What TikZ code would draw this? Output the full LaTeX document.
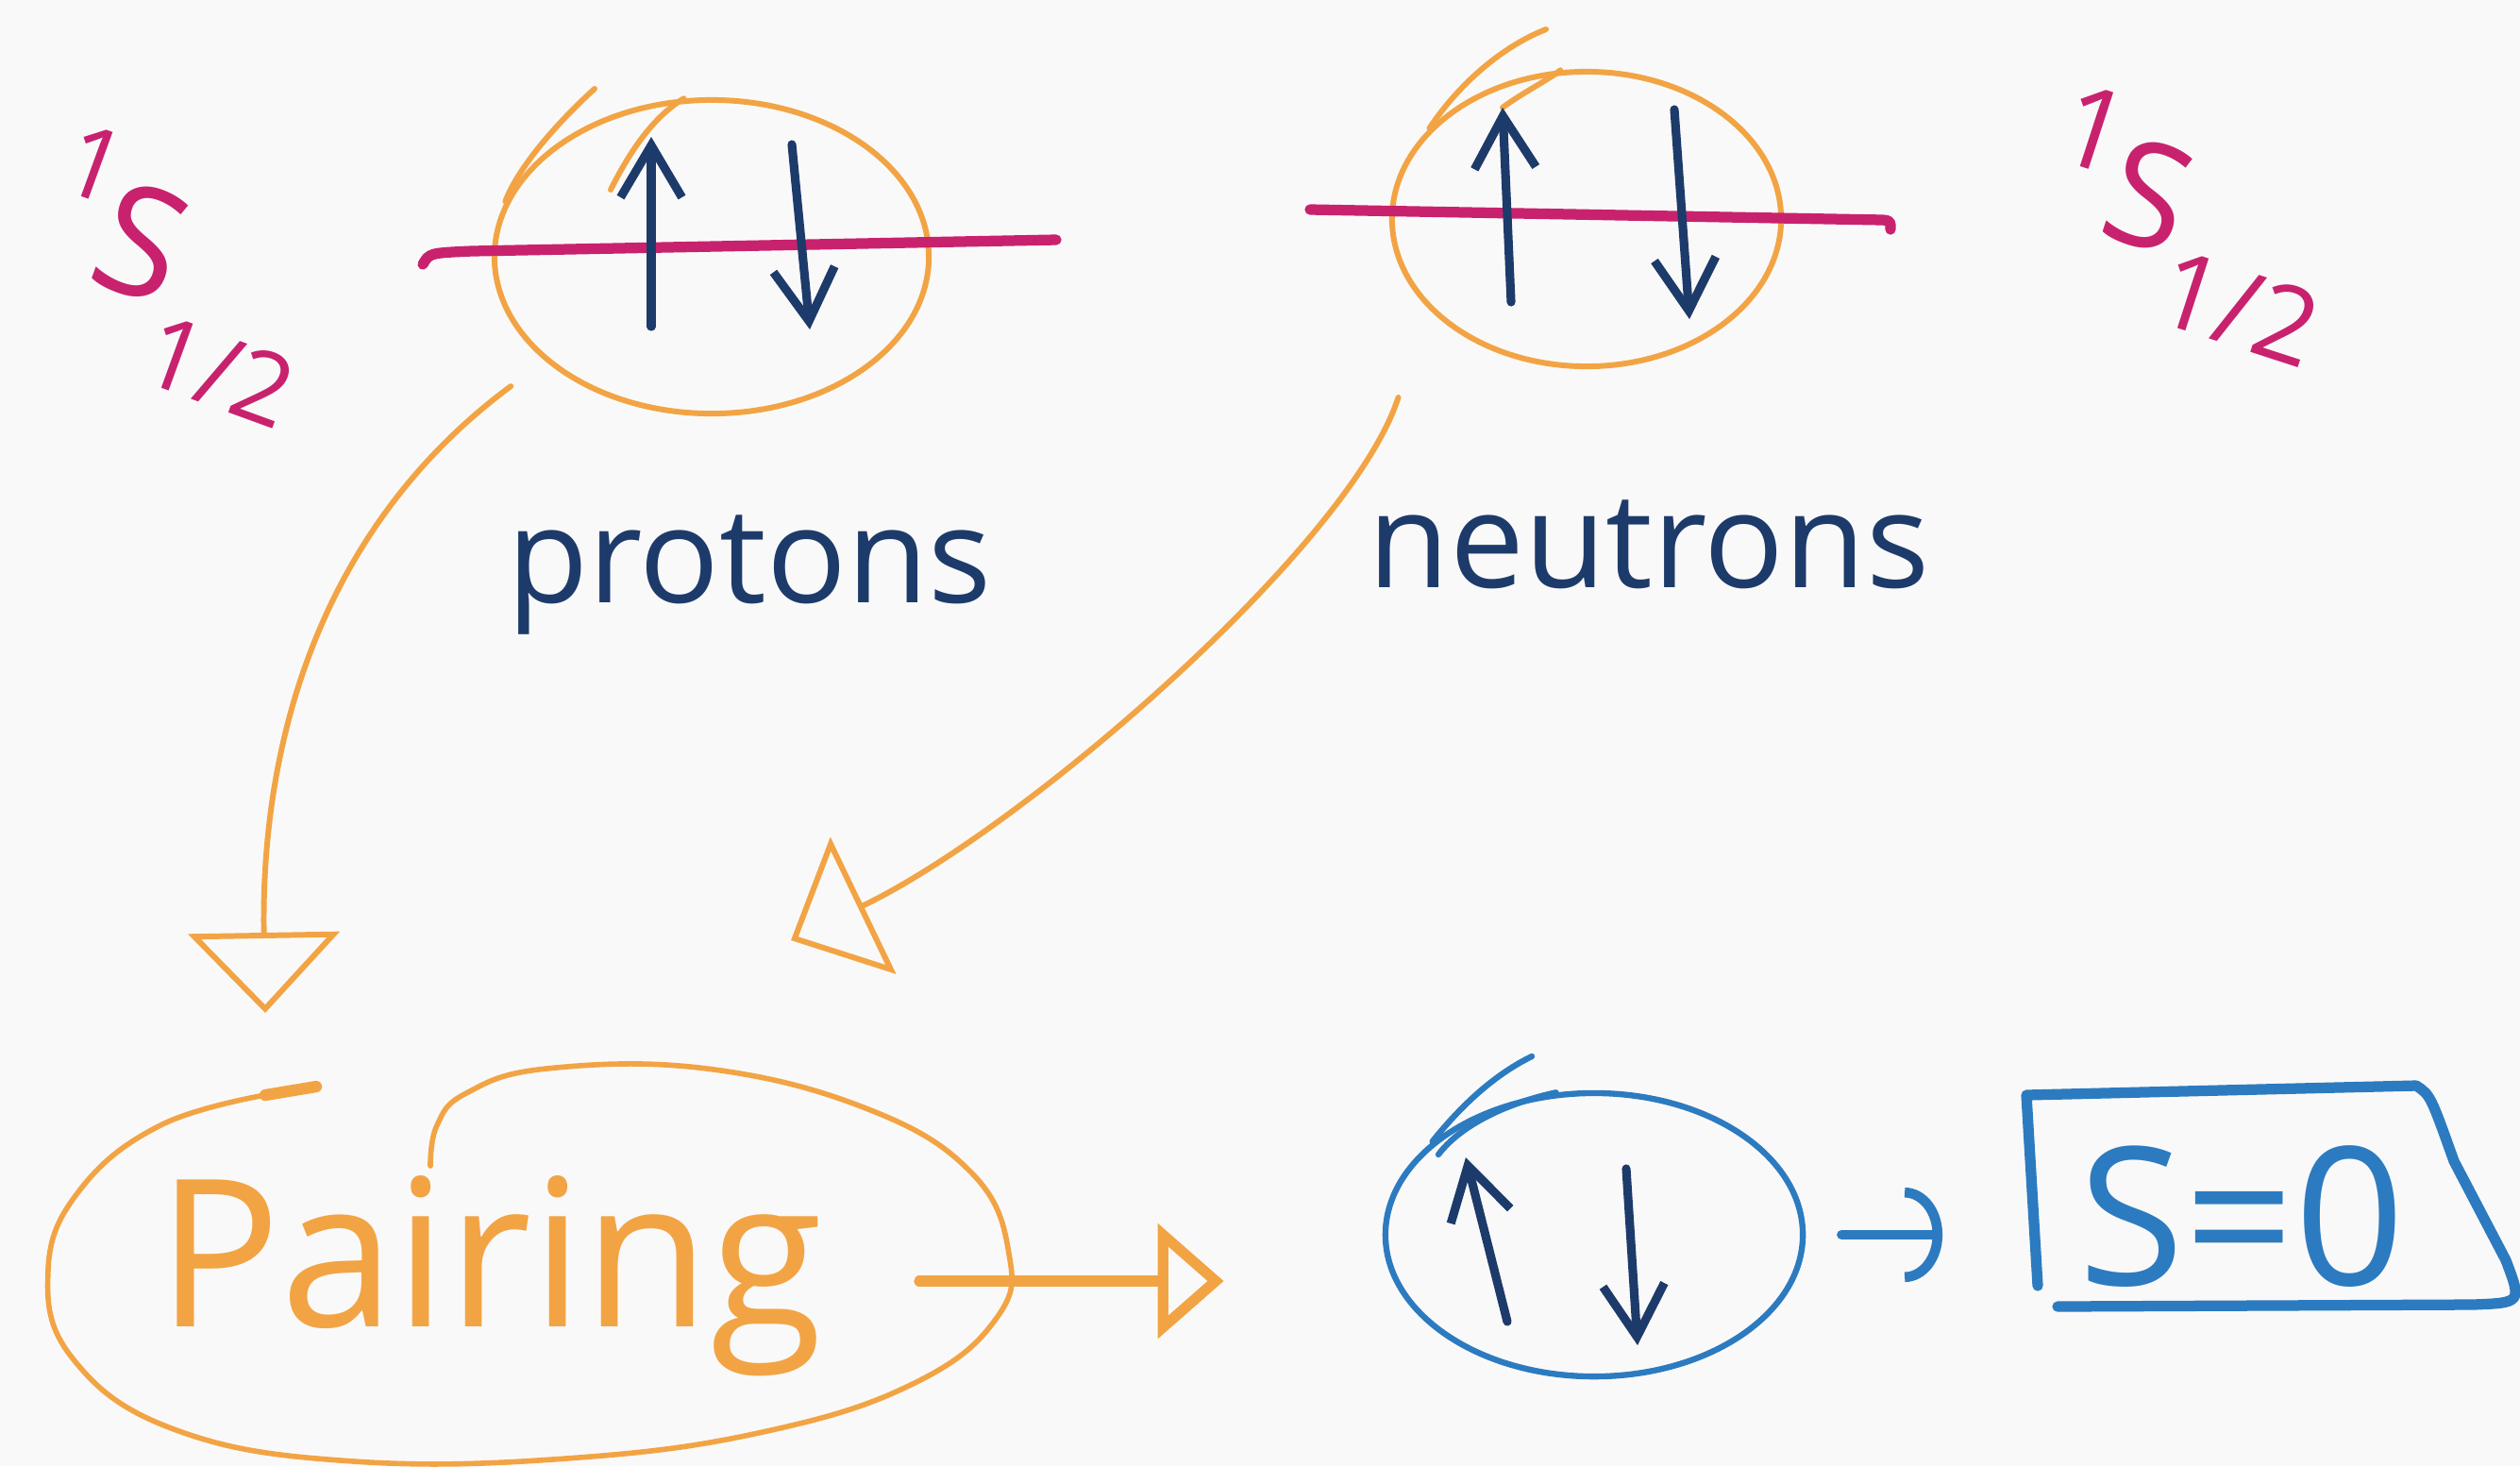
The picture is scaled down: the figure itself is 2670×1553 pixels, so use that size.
\documentclass[tikz,border=0pt]{standalone}
\usepackage{fontspec}
\setmainfont{Open Sans}
\usetikzlibrary{arrows.meta,shapes.geometric}
\definecolor{bg}{RGB}{250,249,249}
\definecolor{org}{RGB}{242,164,68}
\definecolor{mag}{RGB}{200,34,110}
\definecolor{navy}{RGB}{29,59,106}
\definecolor{blu}{RGB}{44,123,192}
\begin{document}
\begin{tikzpicture}[x=0.01cm,y=-0.01cm,line cap=round,line join=round,
  oloop/.style={draw=org,line width=1.7pt},
  bloop/.style={draw=blu,line width=1.8pt},
  level/.style={draw=mag,line width=3.2pt},
  spin/.style={draw=navy,line width=2.6pt,-{Straight Barb[length=5.5mm,width=6.5mm]}},
  oarrow/.style={draw=org,line width=1.7pt,-{Triangle[open,length=8.5mm,width=16mm]}},
  hand/.style={font=\fontsize{40pt}{40pt}\selectfont,text=navy,inner sep=0pt},
  term/.style={text=mag,inner sep=0pt},
  orb/.style={ellipse,inner sep=0pt}]
\fill[bg] (0,0) rectangle (2670,1553);
\useasboundingbox (0,0) rectangle (2670,1553);

% proton orbital
\node[orb,oloop,minimum width=4.6cm,minimum height=3.32cm] (pc) at (754,272) {};
\draw[oloop] (630,94) .. controls (585,135) and (548,180) .. (pc.165);
\draw[oloop] (pc.100) .. controls (690,125) and (665,165) .. (647,201);
\draw[level] (448,280) .. controls (455,268) .. (500,266) -- (1119,254);
\draw[spin] (690,346) -- (690,145);
\draw[spin] (839,153) -- (858,349);

% neutron orbital
\node[orb,oloop,minimum width=4.12cm,minimum height=3.12cm] (nc) at (1681,232) {};
\draw[oloop] (1638,31) .. controls (1590,50) and (1545,90) .. (nc.150);
\draw[oloop] (nc.100) .. controls (1640,85) and (1610,100) .. (1592,114);
\draw[level] (1388,222) -- (1995,233) .. controls (2003,234) .. (2003,243);
\draw[spin] (1601,320) -- (1592,114);
\draw[spin] (1774,116) -- (1790,338);

% term labels
\node[term,rotate=-20] (lterm) at (190,292) {\fontsize{46pt}{46pt}\selectfont\raisebox{.5em}{\fontsize{30pt}{30pt}\selectfont 1}S\raisebox{-.5em}{\fontsize{30pt}{30pt}\selectfont 1/2}};
\node[term,rotate=-18] (rterm) at (2320,238) {\fontsize{44pt}{44pt}\selectfont\raisebox{.4em}{\fontsize{34pt}{34pt}\selectfont 1}S\raisebox{-.45em}{\fontsize{32pt}{32pt}\selectfont 1/2}};

% words
\node[hand,anchor=base] (prot) at (794,638) {protons};
\node[hand,anchor=base] (neut) at (1747,622) {neutrons};

% pairing
\node[orb,minimum width=10.18cm,minimum height=4.18cm] (pa) at (560,1341) {};
\node[font=\fontsize{62pt}{62pt}\selectfont,text=org,anchor=base,inner sep=0pt] (ptext) at (519,1405) {Pairing};
\draw[org,line width=3.5pt] (335,1151) -- (281,1160);
\draw[org,line width=1.6pt] plot[smooth,tension=0.7] coordinates {(281,1160) (170,1192) (85,1260) (51,1345) (77,1439) (187,1515) (375,1548) (613,1544) (817,1515) (971,1464) (1056,1396) (1069,1328) (1030,1243) (920,1175) (749,1132) (579,1132) (494,1158) (463,1192) (456,1235)};

% arrows into pairing
\coordinate (pTip) at (281,1073);
\coordinate (nTip) at (838,996);
\draw[oarrow,shorten <=0.45cm] (pc.212) .. controls +(-230,170) and +(-5,-300) .. (pTip);
\draw[oarrow,shorten <=1cm] (nc.209) .. controls +(-80,250) and +(250,-120) .. (nTip);

% paired spins
\node[orb,bloop,minimum width=4.42cm,minimum height=3.0cm] (bc) at (1689,1308) {};
\draw[bloop] (1623,1119) .. controls (1580,1140) and (1545,1175) .. (bc.150);
\draw[bloop] (bc.105) .. controls (1590,1170) and (1545,1195) .. (1524,1223);
\draw[spin] (1597,1400) -- (1553,1226);
\draw[spin] (1723,1238) -- (1735,1425);

\coordinate (pOut) at (974,1357);
\draw[org,line width=3.2pt,-{Triangle[open,length=7mm,width=12mm]},shorten >=1.68cm] (pOut) -- (pOut -| bc.west);

% S=0 box
\node[inner sep=0pt,minimum width=4.6cm,minimum height=2.26cm] (sbox) at (2379,1270) {};
\node[font=\fontsize{58pt}{58pt}\selectfont,text=blu,inner sep=0pt] (s0) at (2375,1289) {S=0};
\draw[blu,line width=3.2pt] (2159,1362) -- (2147,1160) -- (2560,1150) .. controls (2575,1160) .. (2600,1230) -- (2655,1335) .. controls (2672,1380) .. (2620,1382) -- (2180,1384);
\draw[blu,line width=3pt,-{Arc Barb[length=4mm,width=10mm]},shorten <=0.38cm,shorten >=0.9cm] (bc.east) -- (bc.east -| sbox.west);
\end{tikzpicture}
\end{document}
